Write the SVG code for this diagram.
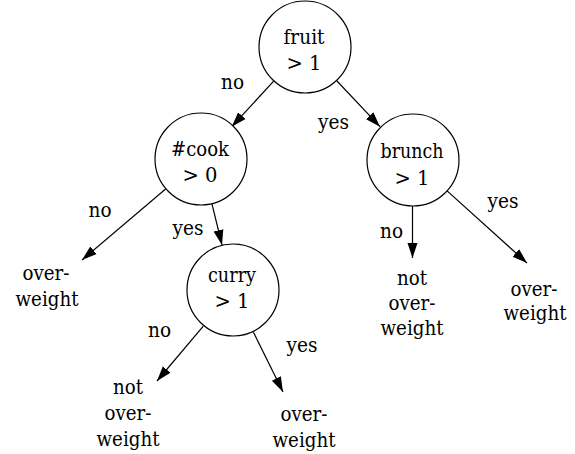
<svg xmlns="http://www.w3.org/2000/svg" width="575" height="454" viewBox="0 0 575 454">
<style>
  text { font-family: "DejaVu Serif", serif; font-size: 21px; fill: #000; text-anchor: middle; }
  .node circle { fill: #fff; stroke: #000; stroke-width: 1.2; }
  .edge line { stroke: #000; stroke-width: 1.2; marker-end: url(#arrow); }
</style>
<defs>
  <marker id="arrow" markerUnits="userSpaceOnUse" markerWidth="16" markerHeight="12" viewBox="0 0 16 12" refX="15" refY="6" orient="auto">
    <path d="M0,1 L15,6 L0,11 z" fill="#000"/>
  </marker>
</defs>
<rect width="575" height="454" fill="#fff"/>
<g id="connectors">
  <g class="edge"><line x1="273.9" y1="80.9" x2="231.7" y2="126.7"/><text x="232.5" y="89" textLength="23" lengthAdjust="spacingAndGlyphs">no</text></g>
  <g class="edge"><line x1="336.5" y1="80.5" x2="380" y2="126.7"/><text x="333.5" y="129" textLength="31" lengthAdjust="spacingAndGlyphs">yes</text></g>
  <g class="edge"><line x1="165.9" y1="188.8" x2="82" y2="260"/><text x="100" y="217" textLength="23" lengthAdjust="spacingAndGlyphs">no</text></g>
  <g class="edge"><line x1="211.9" y1="203.7" x2="222" y2="245"/><text x="188" y="235" textLength="31" lengthAdjust="spacingAndGlyphs">yes</text></g>
  <g class="edge"><line x1="203.3" y1="326.1" x2="157" y2="381"/><text x="159.5" y="337" textLength="23" lengthAdjust="spacingAndGlyphs">no</text></g>
  <g class="edge"><line x1="253.4" y1="332.2" x2="283" y2="392"/><text x="302" y="352" textLength="31" lengthAdjust="spacingAndGlyphs">yes</text></g>
  <g class="edge"><line x1="412.5" y1="206" x2="412.5" y2="258"/><text x="391.5" y="238" textLength="23" lengthAdjust="spacingAndGlyphs">no</text></g>
  <g class="edge"><line x1="447.1" y1="190.9" x2="527" y2="263"/><text x="503" y="208" textLength="31" lengthAdjust="spacingAndGlyphs">yes</text></g>
</g>
<g id="node-fruit" class="node"><circle cx="305" cy="47" r="46"/><text x="304" y="44" textLength="41" lengthAdjust="spacingAndGlyphs">fruit</text><text x="304" y="70" textLength="35" lengthAdjust="spacingAndGlyphs">&gt; 1</text></g>
<g id="node-cook" class="node"><circle cx="201" cy="159" r="46"/><text x="200" y="156" textLength="58" lengthAdjust="spacingAndGlyphs">#cook</text><text x="200" y="182" textLength="35" lengthAdjust="spacingAndGlyphs">&gt; 0</text></g>
<g id="node-brunch" class="node"><circle cx="413" cy="160" r="46"/><text x="412" y="158" textLength="63" lengthAdjust="spacingAndGlyphs">brunch</text><text x="412" y="185" textLength="35" lengthAdjust="spacingAndGlyphs">&gt; 1</text></g>
<g id="node-curry" class="node"><circle cx="233" cy="290" r="46"/><text x="232" y="282" textLength="48" lengthAdjust="spacingAndGlyphs">curry</text><text x="232" y="308" textLength="35" lengthAdjust="spacingAndGlyphs">&gt; 1</text></g>
<g id="leaf-1" class="node"><text x="46" y="280" textLength="47" lengthAdjust="spacingAndGlyphs">over-</text><text x="47" y="306" textLength="63" lengthAdjust="spacingAndGlyphs">weight</text></g>
<g id="leaf-2" class="node"><text x="128" y="394" textLength="30" lengthAdjust="spacingAndGlyphs">not</text><text x="128" y="420" textLength="47" lengthAdjust="spacingAndGlyphs">over-</text><text x="128" y="446" textLength="63" lengthAdjust="spacingAndGlyphs">weight</text></g>
<g id="leaf-3" class="node"><text x="304" y="421" textLength="47" lengthAdjust="spacingAndGlyphs">over-</text><text x="304" y="447" textLength="63" lengthAdjust="spacingAndGlyphs">weight</text></g>
<g id="leaf-4" class="node"><text x="412" y="285" textLength="30" lengthAdjust="spacingAndGlyphs">not</text><text x="412" y="310" textLength="47" lengthAdjust="spacingAndGlyphs">over-</text><text x="412" y="335" textLength="63" lengthAdjust="spacingAndGlyphs">weight</text></g>
<g id="leaf-5" class="node"><text x="534" y="296" textLength="47" lengthAdjust="spacingAndGlyphs">over-</text><text x="535" y="320" textLength="63" lengthAdjust="spacingAndGlyphs">weight</text></g>
</svg>
